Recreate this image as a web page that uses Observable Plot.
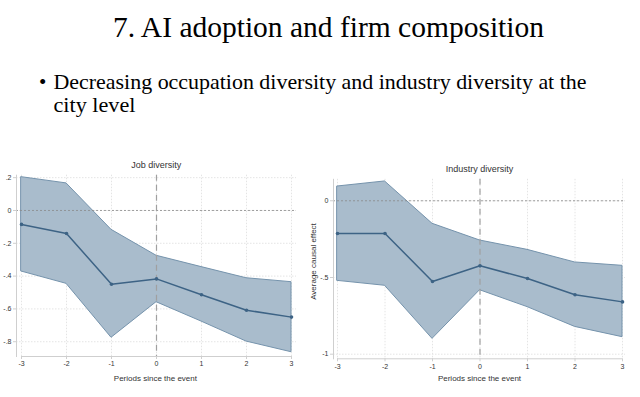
<!DOCTYPE html>
<html>
<head>
<meta charset="utf-8">
<script src="https://cdn.jsdelivr.net/npm/d3@7"></script>
<script src="https://cdn.jsdelivr.net/npm/@observablehq/plot@0.6"></script>
<style>
  html, body { margin:0; padding:0; background:#fff; width:640px; height:397px; overflow:hidden; }
  #page { position:relative; width:640px; height:397px; }
  .chart { position:absolute; top:155px; }
  #left { left:0px; }
  #right { left:300px; }
  #overlay { position:absolute; left:0; top:0; }
  .serif { font-family: "Liberation Serif", "Times New Roman", serif; fill:#000; }
  .sans { font-family: "Liberation Sans", Arial, sans-serif; fill:#333; }
</style>
</head>
<body>
<div id="page">
  <div id="left" class="chart"></div>
  <div id="right" class="chart"></div>
  <svg id="overlay" width="640" height="397">
    <text class="serif" x="113" y="37" font-size="29.5">7. AI adoption and firm composition</text>
    <text class="serif" x="39" y="88.5" font-size="21">•</text>
    <text class="serif" x="53.5" y="88.5" font-size="21" textLength="533" lengthAdjust="spacingAndGlyphs">Decreasing occupation diversity and industry diversity at the</text>
    <text class="serif" x="53.5" y="112.2" font-size="21" textLength="82" lengthAdjust="spacingAndGlyphs">city level</text>
    <text class="sans" x="156.3" y="168.3" text-anchor="middle" font-size="9">Job diversity</text>
    <text class="sans" x="479.5" y="172" text-anchor="middle" font-size="9">Industry diversity</text>
    <text class="sans" x="155.4" y="381" text-anchor="middle" font-size="8">Periods since the event</text>
    <text class="sans" x="479.5" y="381" text-anchor="middle" font-size="8">Periods since the event</text>
    <text class="sans" transform="translate(315.5,261.5) rotate(-90)" text-anchor="middle" font-size="8">Average causal effect</text>
  </svg>
</div>
<script>
// ---- data ----
const periods = [-3, -2, -1, 0, 1, 2, 3];

const jobEst   = [-0.085, -0.140, -0.450, -0.417, -0.514, -0.608, -0.650];
const jobUpper = [ 0.203,  0.165, -0.118, -0.276, -0.345, -0.413, -0.437];
const jobLower = [-0.372, -0.447, -0.776, -0.559, -0.677, -0.799, -0.864];
const jobTicks = [0.2, 0, -0.2, -0.4, -0.6, -0.8];

const indEst   = [-0.213, -0.213, -0.526, -0.424, -0.507, -0.613, -0.659];
const indUpper = [ 0.093,  0.126, -0.150, -0.259, -0.320, -0.402, -0.424];
const indLower = [-0.522, -0.554, -0.900, -0.583, -0.693, -0.822, -0.889];
const indTicks = [0, -0.5, -1];

const stataFmt = d => d === 0 ? "0" : String(d).replace("0.", ".");

function chart(o) {
  const data = periods.map((p, i) => ({p, est: o.est[i], lo: o.lower[i], hi: o.upper[i]}));
  const H = 235;
  const [yBot, yTop] = o.yRange;
  const marks = [
    Plot.gridX(periods, {stroke: "#e4e4e4", strokeOpacity: 1, strokeDasharray: "1.5,1.5"}),
    Plot.gridY(o.ticks, {stroke: "#e4e4e4", strokeOpacity: 1, strokeDasharray: "1.5,1.5"}),
    Plot.areaY(data, {x: "p", y1: "lo", y2: "hi", fill: "#a9bccc", stroke: "#7593ac", strokeWidth: 1}),
    Plot.ruleY([0], {stroke: "#8a8a8a", strokeDasharray: "2,2", strokeWidth: 0.8}),
    Plot.ruleX([0], {stroke: "#a0a0a0", strokeDasharray: "6,4", strokeWidth: 1.2}),
    Plot.line(data, {x: "p", y: "est", stroke: "#3d6385", strokeWidth: 1.5}),
    Plot.dot(data, {x: "p", y: "est", r: 1.8, fill: "#3d6385", stroke: "none"}),
    Plot.ruleY([o.yDomain[0]], {x1: periods[0], x2: periods[periods.length - 1], stroke: "#cfcfcf", strokeWidth: 1}),
    Plot.frame({anchor: "left", stroke: "#cfcfcf"}),
    Plot.axisX(periods, {tickSize: 3, tickPadding: 2, stroke: "#cfcfcf", fill: "#333", fontSize: 7,
      tickFormat: d => String(d), label: null}),
    Plot.axisY(o.ticks, {tickSize: 3, tickPadding: 2, stroke: "#cfcfcf", fill: "#333", fontSize: 7,
      tickFormat: stataFmt, label: null})
  ];
  return Plot.plot({
    width: o.width, height: H,
    marginLeft: o.ml, marginRight: o.mr, marginTop: yTop, marginBottom: H - yBot,
    x: {domain: [periods[0], periods[periods.length - 1]], range: o.xRange},
    y: {domain: o.yDomain, range: o.yRange},
    style: {fontFamily: "Liberation Sans, Arial, sans-serif", fontSize: "7px", color: "#333", background: "transparent", overflow: "visible"},
    marks
  });
}

document.getElementById("left").append(chart({
  width: 310, ml: 16, mr: 14, xRange: [21, 291],
  yDomain: [-0.89, 0.215], yRange: [201, 19.7],
  est: jobEst, upper: jobUpper, lower: jobLower, ticks: jobTicks
}));

document.getElementById("right").append(chart({
  width: 340, ml: 33, mr: 15, xRange: [37, 322],
  yDomain: [-1.03, 0.14], yRange: [203.3, 23.8],
  est: indEst, upper: indUpper, lower: indLower, ticks: indTicks
}));
</script>
</body>
</html>
